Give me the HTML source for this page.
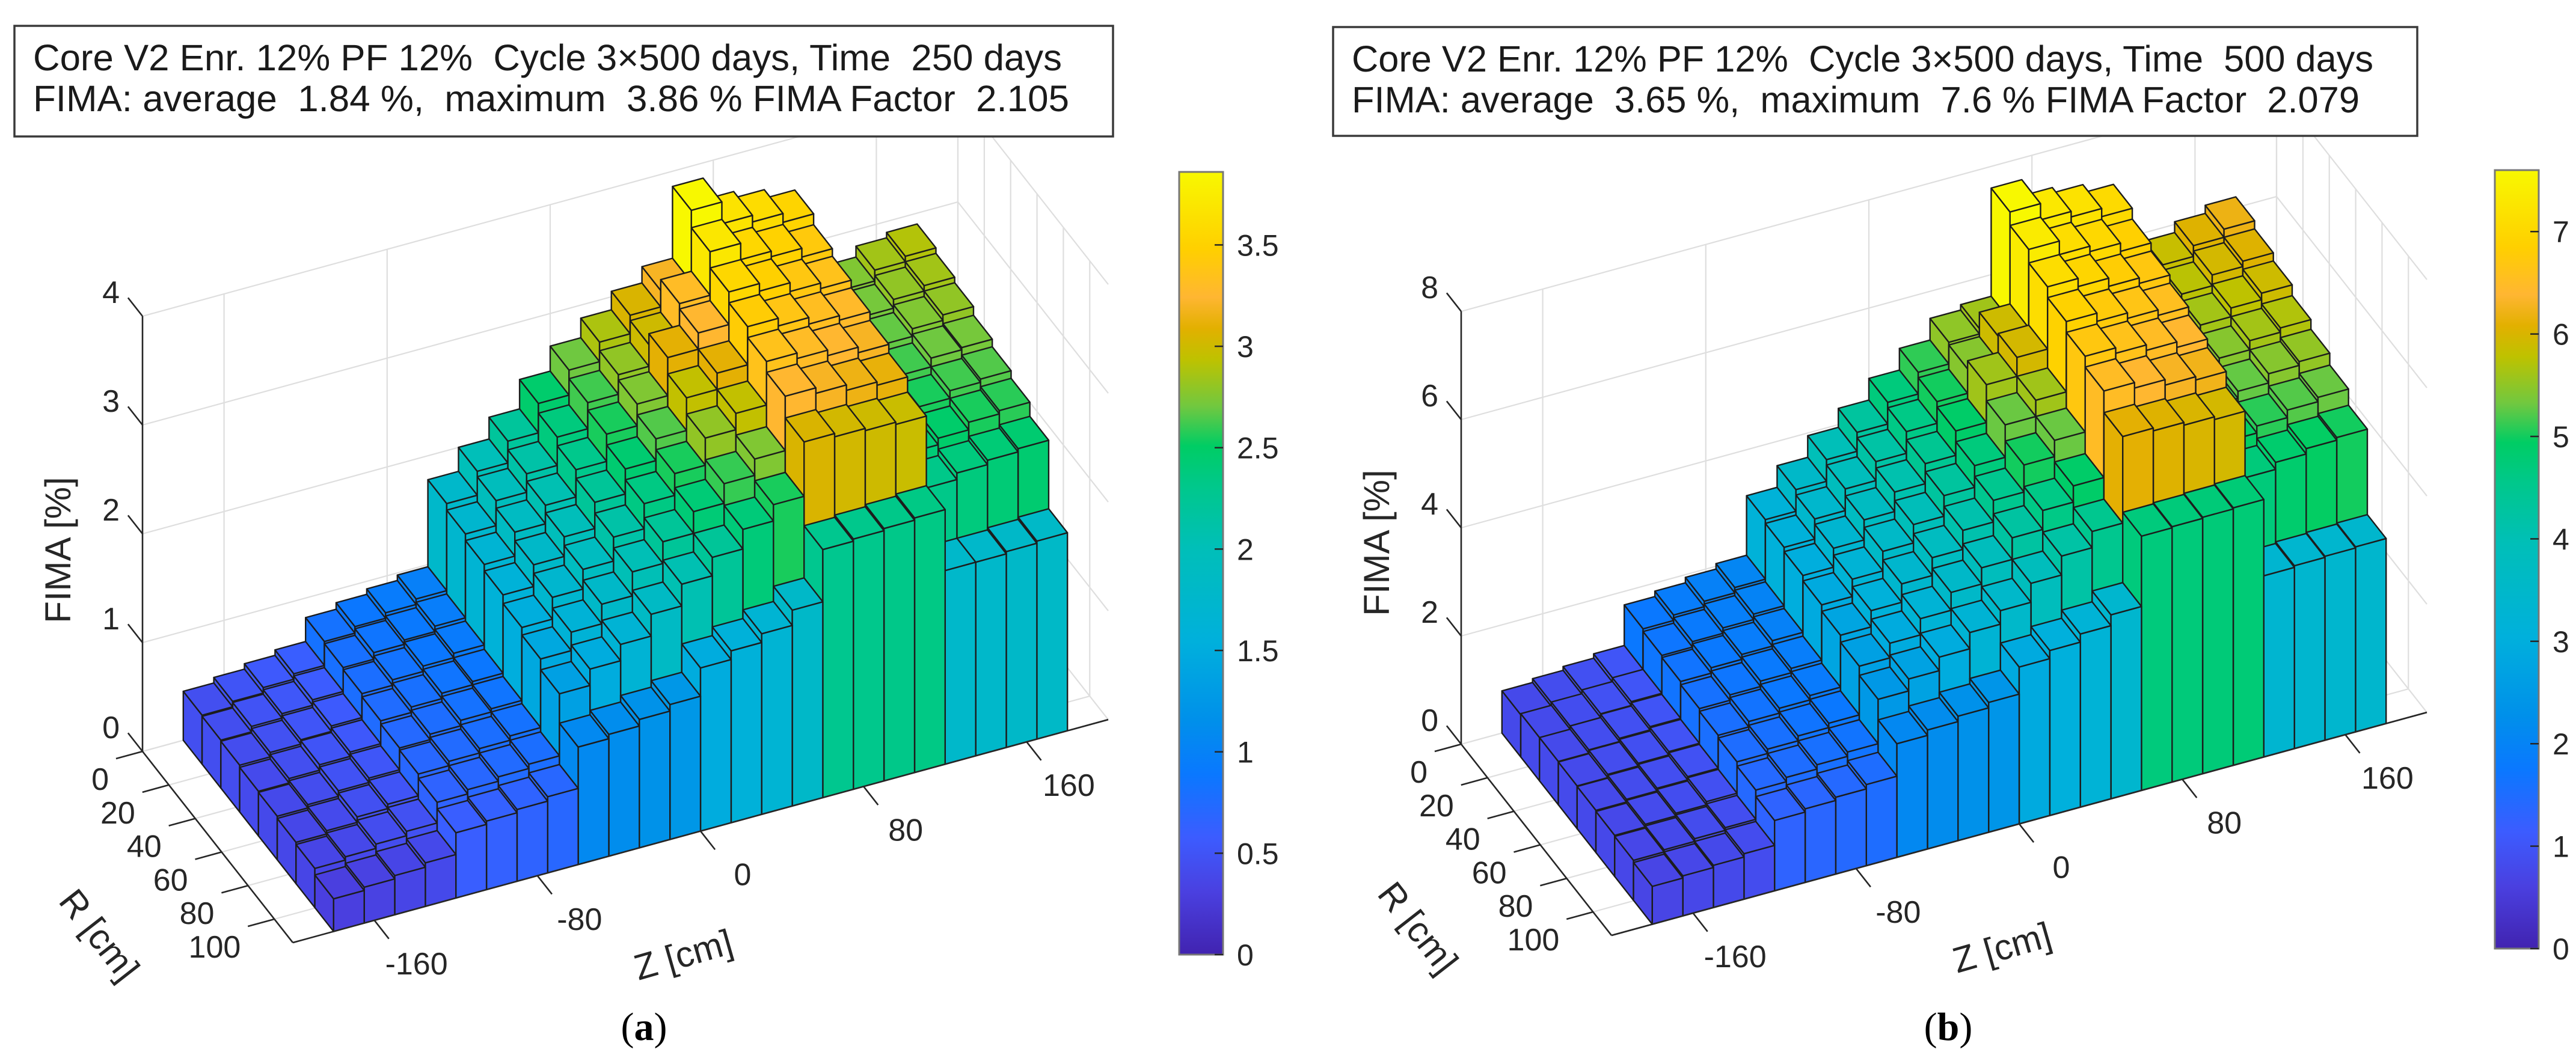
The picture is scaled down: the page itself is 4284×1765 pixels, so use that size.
<!DOCTYPE html>
<html><head><meta charset="utf-8"><title>FIMA 3D bar charts</title>
<style>html,body{margin:0;padding:0;background:#fff}svg{display:block}text{white-space:pre}</style></head>
<body>
<svg id="fig" xmlns="http://www.w3.org/2000/svg" width="4284" height="1765" viewBox="0 0 4284 1765" font-family="Liberation Sans, Arial, sans-serif" xml:space="preserve">
<defs>
<linearGradient id="parula" x1="0" y1="1" x2="0" y2="0">
<stop offset="0" stop-color="#4123b0"/><stop offset="0.08" stop-color="#4a40e0"/><stop offset="0.15" stop-color="#3c5cff"/>
<stop offset="0.23" stop-color="#0a78ff"/><stop offset="0.3" stop-color="#0090ea"/><stop offset="0.4" stop-color="#00b0dc"/>
<stop offset="0.52" stop-color="#00bfb8"/><stop offset="0.6" stop-color="#00c88a"/><stop offset="0.65" stop-color="#00cd64"/>
<stop offset="0.7" stop-color="#70c840"/><stop offset="0.76" stop-color="#bec200"/><stop offset="0.8" stop-color="#e2b000"/>
<stop offset="0.84" stop-color="#ffb632"/><stop offset="0.9" stop-color="#ffcf00"/><stop offset="1" stop-color="#f8f800"/>
</linearGradient>
</defs>
<g id="root"></g>
</svg>
<script>
// ---- data ----
const zBinEdges = [-180,-165,-150,-135,-120,-105,-90,-75,-60,-45,-30,-15,0,15,30,45,60,75,90,105,120,135,150,165,180];
const rBinEdges = [0,14.25,28.5,42.75,57,71.25,85.5,99.75,114];
const zTicks = [-160,-80,0,80,160];
const rTicks = [0,20,40,60,80,100];
const hTicksA = [0,1,2,3,4];
const hTicksB = [0,2,4,6,8];
const cbTicksA = [0,0.5,1,1.5,2,2.5,3,3.5];
const cbTicksB = [0,1,2,3,4,5,6,7];
const heightsA = [
[0.45,0.50,0.55,0.60, 0.82,0.88,0.93,0.98, 1.78,2.00,2.20,2.47, 2.70,2.88,3.05,3.20, 3.86,3.66,3.60,3.52, 2.70,2.75,2.85,2.90],
[0.44,0.49,0.53,0.58, 0.80,0.86,0.90,0.95, 1.72,1.95,2.12,2.38, 2.62,2.80,3.00,3.30, 3.70,3.55,3.50,3.42, 2.65,2.72,2.80,2.85],
[0.43,0.47,0.51,0.56, 0.78,0.83,0.88,0.92, 1.66,1.88,2.05,2.30, 2.55,2.75,3.10,3.25, 3.55,3.48,3.40,3.35, 2.60,2.68,2.75,2.80],
[0.41,0.45,0.50,0.54, 0.75,0.80,0.85,0.88, 1.60,1.80,1.98,2.22, 2.45,2.65,2.95,3.10, 3.45,3.38,3.32,3.28, 2.55,2.62,2.70,2.72],
[0.40,0.43,0.48,0.52, 0.72,0.77,0.82,0.85, 1.52,1.72,1.90,2.12, 2.35,2.55,2.80,2.95, 3.35,3.30,3.25,3.20, 2.50,2.55,2.62,2.65],
[0.38,0.41,0.46,0.50, 0.70,0.74,0.78,0.82, 1.45,1.62,1.80,2.02, 2.22,2.42,2.60,2.75, 3.25,3.20,3.15,3.12, 2.42,2.48,2.55,2.58],
[0.36,0.39,0.43,0.47, 0.66,0.70,0.74,0.78, 1.35,1.50,1.65,1.85, 2.05,2.22,2.40,2.55, 3.05,3.02,3.00,2.98, 2.32,2.38,2.42,2.45],
[0.30,0.33,0.36,0.40, 0.60,0.63,0.66,0.70, 1.08,1.12,1.18,1.24, 1.50,1.58,1.66,1.80, 2.28,2.30,2.32,2.34, 1.78,1.78,1.80,1.82]
];
const heightsB = [
[0.78,0.85,0.92,1.00, 1.75,1.85,1.95,2.05, 3.15,3.55,3.95,4.30, 4.70,5.10,5.50,5.60, 7.60,7.30,7.20,7.05, 5.70,5.85,6.05,6.20],
[0.80,0.86,0.93,1.00, 1.70,1.80,1.90,2.00, 3.08,3.45,3.85,4.20, 4.60,5.00,5.45,5.90, 7.35,7.10,7.00,6.85, 5.60,5.75,5.95,6.05],
[0.80,0.86,0.92,0.98, 1.66,1.76,1.85,1.95, 3.00,3.35,3.72,4.08, 4.45,4.90,5.60,5.95, 7.10,6.95,6.80,6.70, 5.45,5.62,5.78,5.90],
[0.79,0.85,0.90,0.96, 1.60,1.70,1.80,1.88, 2.90,3.22,3.58,3.92, 4.30,4.70,5.30,5.60, 6.90,6.75,6.65,6.55, 5.30,5.45,5.62,5.70],
[0.78,0.83,0.88,0.94, 1.55,1.65,1.74,1.82, 2.78,3.08,3.42,3.75, 4.10,4.50,5.00,5.30, 6.70,6.60,6.50,6.40, 5.15,5.28,5.45,5.52],
[0.76,0.81,0.86,0.92, 1.50,1.58,1.67,1.75, 2.65,2.92,3.22,3.55, 3.85,4.25,4.60,4.90, 6.50,6.40,6.30,6.24, 4.95,5.08,5.22,5.30],
[0.74,0.78,0.83,0.88, 1.42,1.50,1.58,1.66, 2.48,2.70,2.95,3.25, 3.50,3.85,4.20,4.50, 6.10,6.05,6.00,5.95, 4.72,4.85,4.95,5.00],
[0.70,0.74,0.78,0.84, 1.30,1.36,1.42,1.50, 2.10,2.20,2.30,2.40, 2.90,3.05,3.20,3.40, 4.70,4.72,4.74,4.76, 3.35,3.38,3.40,3.42]
];
const titleA = ["Core V2 Enr. 12% PF 12%  Cycle 3\u00d7500 days, Time  250 days","FIMA: average  1.84 %,  maximum  3.86 % FIMA Factor  2.105"];
const titleB = ["Core V2 Enr. 12% PF 12%  Cycle 3\u00d7500 days, Time  500 days","FIMA: average  3.65 %,  maximum  7.6 % FIMA Factor  2.079"];

// ---- colormap ----
const cmap = [[0,65,35,176],[0.08,74,64,224],[0.15,60,92,255],[0.23,10,120,255],[0.3,0,144,234],[0.4,0,176,220],[0.52,0,191,184],[0.6,0,200,138],[0.65,0,205,100],[0.7,112,200,64],[0.76,190,194,0],[0.8,226,176,0],[0.84,255,182,50],[0.9,255,207,0],[1,248,248,0]];
function colorOf(t){
  t=Math.max(0,Math.min(1,t));
  for(let i=1;i<cmap.length;i++){
    if(t<=cmap[i][0]){const a=cmap[i-1],b=cmap[i];const f=(t-a[0])/(b[0]-a[0]);
      return 'rgb('+[1,2,3].map(k=>Math.round(a[k]+f*(b[k]-a[k]))).join(',')+')';}
  }
  return 'rgb(248,248,0)';
}
const NS='http://www.w3.org/2000/svg';
const root=document.getElementById('root');
function mk(tag,attrs,parent){const e=document.createElementNS(NS,tag);for(const k in attrs)e.setAttribute(k,attrs[k]);(parent||root).appendChild(e);return e;}

function drawChart(cfg){
  const g=mk('g',{});
  
  
  const P=(z,r,h)=>[cfg.ox+(z+200)*3.39+r*2.193, cfg.oy-(z+200)*0.9275+r*2.79-h*cfg.hs];
  const pts=a=>a.map(p=>p[0].toFixed(1)+','+p[1].toFixed(1)).join(' ');
  const hTop=cfg.hTicks[cfg.hTicks.length-1];
  const grid=mk('g',{stroke:'#dedede','stroke-width':2.2,fill:'none'},g);
  
  
  for(const h of cfg.hTicks){
    const a=P(-200,0,h),b=P(200,0,h),c=P(200,114,h);
    mk('polyline',{points:pts([a,b,c])},grid);
  }
  for(const z of zTicks){const a=P(z,0,0),b=P(z,0,hTop),c=P(z,114,0);mk('polyline',{points:pts([c,a,b])},grid);}
  for(const r of rTicks){const a=P(200,r,0),b=P(200,r,hTop),c=P(-200,r,0);mk('polyline',{points:pts([c,a,b])},grid);}
  {const a=P(200,0,0),b=P(200,0,hTop);mk('line',{x1:a[0],y1:a[1],x2:b[0],y2:b[1]},grid);}
  const bars=mk('g',{stroke:'#1c1c1c','stroke-width':2.4,'stroke-linejoin':'round'},g);
  
  
  const H=cfg.heights;
  for(let i=0;i<H.length;i++){
    const r0=rBinEdges[i],r1=rBinEdges[i+1];
    for(let j=H[i].length-1;j>=0;j--){
      const z0=zBinEdges[j],z1=zBinEdges[j+1],h=H[i][j];
      const col=colorOf(h/cfg.cmax);
      const bg=mk('g',{fill:col},bars);
      
      
      mk('polygon',{points:pts([P(z0,r0,0),P(z0,r1,0),P(z0,r1,h),P(z0,r0,h)])},bg);
      mk('polygon',{points:pts([P(z0,r1,0),P(z1,r1,0),P(z1,r1,h),P(z0,r1,h)])},bg);
      mk('polygon',{points:pts([P(z0,r0,h),P(z1,r0,h),P(z1,r1,h),P(z0,r1,h)])},bg);
    }
  }
  const ax=mk('g',{stroke:'#262626','stroke-width':2.6,fill:'none'},g);
  
  
  const line=(a,b)=>mk('line',{x1:a[0],y1:a[1],x2:b[0],y2:b[1]},ax);
  line(P(-200,0,0),P(-200,0,hTop));
  line(P(-200,0,0),P(-200,114,0));
  line(P(-200,114,0),P(200,114,0));
  const tx=mk('g',{fill:'#262626','font-size':52},g);
  
  
  for(const h of cfg.hTicks){
    const a=P(-200,0,h);line(a,P(-200,-11,h));
    const t=mk('text',{x:a[0]-38,y:a[1]-22,'text-anchor':'end'},tx);t.textContent=h;
    
  }
  for(const r of rTicks){
    const a=P(-200,r,0);line(a,P(-213,r,0));
    const t=mk('text',{x:a[0]-56,y:a[1]+64,'text-anchor':'end'},tx);t.textContent=r;
    
  }
  for(const z of zTicks){
    const a=P(z,114,0);line(a,P(z,125,0));
    const t=mk('text',{x:a[0]+70,y:a[1]+90,'text-anchor':'middle'},tx);t.textContent=z;
    
  }
  const o=P(-200,0,0);
  const yt=mk('text',{x:0,y:0,'font-size':60,fill:'#262626','text-anchor':'middle',transform:'translate('+(o[0]-120)+','+(o[1]-335)+') rotate(-90)'},g);
  yt.textContent='FIMA [%]';
  
  
  const rt=mk('text',{x:0,y:0,'font-size':60,fill:'#262626','text-anchor':'middle',transform:'translate('+(o[0]-88)+','+(o[1]+318)+') rotate(52)'},g);
  rt.textContent='R [cm]';
  
  
  const zt=mk('text',{x:0,y:0,'font-size':60,fill:'#262626','text-anchor':'middle',transform:'translate('+(o[0]+905)+','+(o[1]+358)+') rotate(-16)'},g);
  zt.textContent='Z [cm]';
  
  
  const cb=mk('g',{},g);
  
  
  mk('rect',{x:cfg.cbx,y:cfg.cbTop,width:73,height:cfg.cbBot-cfg.cbTop,fill:'url(#parula)',stroke:'#777','stroke-width':3},cb);
  for(const v of cfg.cbTicks){
    const y=cfg.cbBot-v/cfg.cmax*(cfg.cbBot-cfg.cbTop);
    mk('line',{x1:cfg.cbx+73-14,y1:y,x2:cfg.cbx+73,y2:y,stroke:'#262626','stroke-width':2.5},cb);
    const t=mk('text',{x:cfg.cbx+96,y:y+18,'font-size':50,fill:'#262626'},cb);t.textContent=v;
    
  }
  const tb=mk('g',{},g);
  
  
  mk('rect',{x:cfg.bx,y:cfg.by,width:cfg.bw,height:cfg.bh,fill:'#fff',stroke:'#3a3a3a','stroke-width':3.5},tb);
  cfg.title.forEach((s,k)=>{
    const t=mk('text',{x:cfg.bx+31,y:cfg.by+74+k*68,'font-size':61,fill:'#1a1a1a',textLength:cfg.tl[k],lengthAdjust:'spacingAndGlyphs'},tb);
    t.textContent=s;
    
  });
  const cap=mk('text',{x:cfg.capx,y:1730,'font-size':66,'font-family':'Liberation Serif, serif','text-anchor':'middle',fill:'#000'},g);
  
  
  const s1=mk('tspan',{},cap);s1.textContent='(';
  const s2=mk('tspan',{'font-weight':'bold'},cap);s2.textContent=cfg.letter;
  const s3=mk('tspan',{},cap);s3.textContent=')';
}
drawChart({name:'chart-a',ox:237,oy:1250,hs:181,hTicks:hTicksA,heights:heightsA,cmax:3.86,cbx:1961,cbTop:286,cbBot:1588,cbTicks:cbTicksA,
  bx:24,by:43,bw:1827,bh:184,title:titleA,tl:[1711,1723],capx:1071,letter:'a'});
drawChart({name:'chart-b',ox:2430,oy:1238,hs:90,hTicks:hTicksB,heights:heightsB,cmax:7.6,cbx:4149,cbTop:283,cbBot:1578,cbTicks:cbTicksB,
  bx:2217,by:45,bw:1803,bh:181,title:titleB,tl:[1699,1676],capx:3240,letter:'b'});
</script>
</body></html>
